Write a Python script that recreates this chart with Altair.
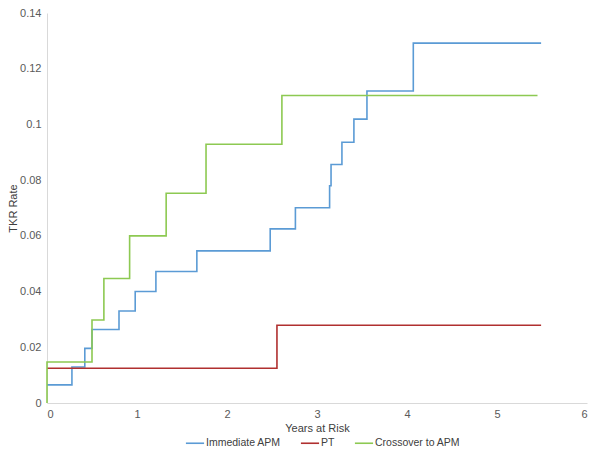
import altair as alt
import pandas as pd

# Immediate APM
imm_x = [0, 0.277, 0.42, 0.50, 0.80, 0.98, 1.21, 1.665, 2.48, 2.76, 3.14, 3.156, 3.277, 3.41, 3.555, 4.07, 5.49]
imm_y = [0.0065, 0.0129, 0.0196, 0.0264, 0.033, 0.040, 0.0472, 0.0546, 0.0625, 0.0701, 0.078, 0.0856, 0.0936, 0.1019, 0.112, 0.1292, 0.1292]
# PT
pt_x = [0, 2.555, 5.49]
pt_y = [0.0125, 0.0279, 0.0279]
# Crossover to APM
cr_x = [0, 0, 0.50, 0.632, 0.918, 1.324, 1.767, 2.61, 5.45]
cr_y = [0, 0.0147, 0.0298, 0.0447, 0.060, 0.0753, 0.0929, 0.1104, 0.1104]

series_names = ["Immediate APM", "PT", "Crossover to APM"]
series_colors = ["#5B9BD5", "#B0302F", "#8DC952"]

rows = []
for name, xs, ys in zip(series_names, [imm_x, pt_x, cr_x], [imm_y, pt_y, cr_y]):
    for i, (x, y) in enumerate(zip(xs, ys)):
        rows.append({"series": name, "x": x, "y": y, "i": i})
df = pd.DataFrame(rows)

font = "Liberation Sans"

lines = alt.Chart(df).mark_line(interpolate="step-after", strokeWidth=1.6).encode(
    x=alt.X("x:Q", scale=alt.Scale(domain=[0, 6], nice=False),
            axis=alt.Axis(values=[0, 1, 2, 3, 4, 5, 6], title="Years at Risk", grid=False,
                          ticks=False, domainColor="#D9D9D9", labelColor="#595959",
                          labelFontSize=11, labelPadding=5, titleFontSize=11,
                          titleFontWeight="normal", titleColor="#404040", titlePadding=3,
                          labelFont=font, titleFont=font)),
    y=alt.Y("y:Q", scale=alt.Scale(domain=[0, 0.14], nice=False),
            axis=alt.Axis(values=[0, 0.02, 0.04, 0.06, 0.08, 0.1, 0.12, 0.14], format=".2~f",
                          title="TKR Rate", grid=False, ticks=False, domainColor="#D9D9D9",
                          labelColor="#595959", labelFontSize=11, labelPadding=6,
                          titleFontSize=11, titleFontWeight="normal", titleColor="#404040",
                          titlePadding=1, labelFont=font, titleFont=font)),
    color=alt.Color("series:N", scale=alt.Scale(domain=series_names, range=series_colors),
                    legend=alt.Legend(title=None, orient="none", direction="horizontal",
                                      legendX=138, legendY=420, symbolType="stroke",
                                      symbolSize=330, symbolStrokeWidth=1.6,
                                      labelFontSize=10.5, labelColor="#404040", labelFont=font,
                                      columnPadding=16, labelOffset=1)),
    order=alt.Order("i:Q"),
    detail="series:N",
)

chart = lines.properties(
    width=540, height=390,
    autosize=alt.AutoSizeParams(type="none"),
    padding={"left": 39, "top": 5, "right": 5, "bottom": 44},
).configure_view(stroke=None)

chart.save("out.html", embed_options={"renderer": "svg", "actions": False})
